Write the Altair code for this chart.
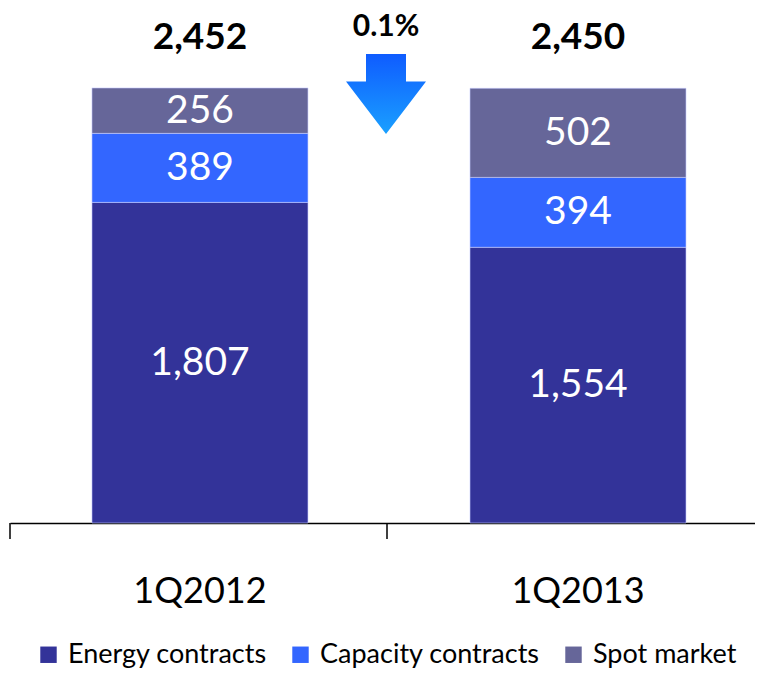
import altair as alt
import pandas as pd

categories = ["1Q2012", "1Q2013"]
series = ["Energy contracts", "Capacity contracts", "Spot market"]
energy = [1807, 1554]
capacity = [389, 394]
spot = [256, 502]
totals = [2452, 2450]
change_label = "0.1%"
colors = ["#333399", "#3366FF", "#666699"]
boundaries = [0, 1]  # category boundary ticks

rows = []
for i, q in enumerate(categories):
    for k, (s, vals) in enumerate(zip(series, [energy, capacity, spot])):
        rows.append({"quarter": q, "series": s, "value": vals[i], "idx": k,
                     "label": f"{vals[i]:,}"})
df = pd.DataFrame(rows)
tot_df = pd.DataFrame({"quarter": categories, "total": totals,
                       "label": [f"{t:,}" for t in totals]})
tick_df = pd.DataFrame({"b": boundaries})

FONT = "Lato"
xscale = alt.Scale(type="band", domain=categories, paddingInner=0.4286,
                   paddingOuter=0.1997, align=0.543)
yscale = alt.Scale(domain=[0, 2835], nice=False)

bars = alt.Chart(df).mark_bar(stroke="#c8ccff", strokeWidth=0.6).encode(
    x=alt.X("quarter:N", scale=xscale, sort=categories,
            axis=alt.Axis(title=None, labelAngle=0, ticks=False,
                          domainColor="black", domainWidth=1.5,
                          labelFontSize=36, labelColor="black",
                          labelFont=FONT, labelPadding=51)),
    y=alt.Y("value:Q", stack="zero", scale=yscale, axis=None),
    color=alt.Color("series:N", scale=alt.Scale(domain=series, range=colors),
                    legend=alt.Legend(title=None, orient="none", direction="horizontal",
                                      legendX=25, legendY=621,
                                      symbolType="square", symbolSize=270,
                                      symbolStrokeWidth=0, symbolOffset=0,
                                      labelOffset=6,
                                      labelFontSize=27, labelFont=FONT,
                                      labelColor="black", columnPadding=20,
                                      labelLimit=400)),
    order=alt.Order("idx:Q"),
)

ticks = alt.Chart(tick_df).mark_rule(color="black", strokeWidth=1.5).encode(
    x=alt.X("b:Q", scale=alt.Scale(domain=[0, 2], range=[0, 754]), axis=None),
    y=alt.value(503),
    y2=alt.value(519),
)

seg_labels = alt.Chart(df).transform_stack(
    stack="value", groupby=["quarter"], as_=["y0", "y1"],
    sort=[alt.SortField("idx", order="ascending")]
).transform_calculate(mid="(datum.y0 + datum.y1) / 2").mark_text(
    color="white", fontSize=39, font=FONT, baseline="middle", align="center"
).encode(
    x=alt.X("quarter:N", scale=xscale, sort=categories, axis=None),
    y=alt.Y("mid:Q", scale=yscale, axis=None),
    text="label:N",
)

tot_labels = alt.Chart(tot_df).mark_text(
    color="black", fontSize=37, fontWeight="bold", font=FONT,
    baseline="middle", dy=-50
).encode(
    x=alt.X("quarter:N", scale=xscale, sort=categories, axis=None),
    y=alt.Y("total:Q", scale=yscale, axis=None),
    text="label:N",
)

arrow_path = "M -0.5 -1 L 0.5 -1 L 0.5 -0.31 L 1 -0.31 L 0 1 L -1 -0.31 L -0.5 -0.31 Z"
grad = alt.LinearGradient(gradient="linear",
                          stops=[alt.GradientStop(color="#0f5cff", offset=0),
                                 alt.GradientStop(color="#1aa0ff", offset=1)],
                          x1=0, x2=0, y1=0, y2=1)
arrow = alt.Chart(pd.DataFrame({"a": [0]})).mark_point(
    shape=arrow_path, size=6400, filled=True, fill=grad, opacity=1, strokeWidth=0
).encode(x=alt.value(376), y=alt.value(74))

pct = alt.Chart(pd.DataFrame({"t": [change_label]})).mark_text(
    color="black", fontSize=30, fontWeight="bold", font=FONT, baseline="middle"
).encode(x=alt.value(376), y=alt.value(7), text="t:N")

chart = alt.layer(bars, ticks, seg_labels, tot_labels, arrow, pct).resolve_scale(
    x="independent"
).properties(
    width=745, height=503,
    padding={"left": 2, "top": 12, "right": 0, "bottom": 154},
    autosize=alt.AutoSizeParams(type="none"),
).configure_view(stroke=None)

chart.save("out.html", embed_options={"renderer": "svg", "actions": False})
